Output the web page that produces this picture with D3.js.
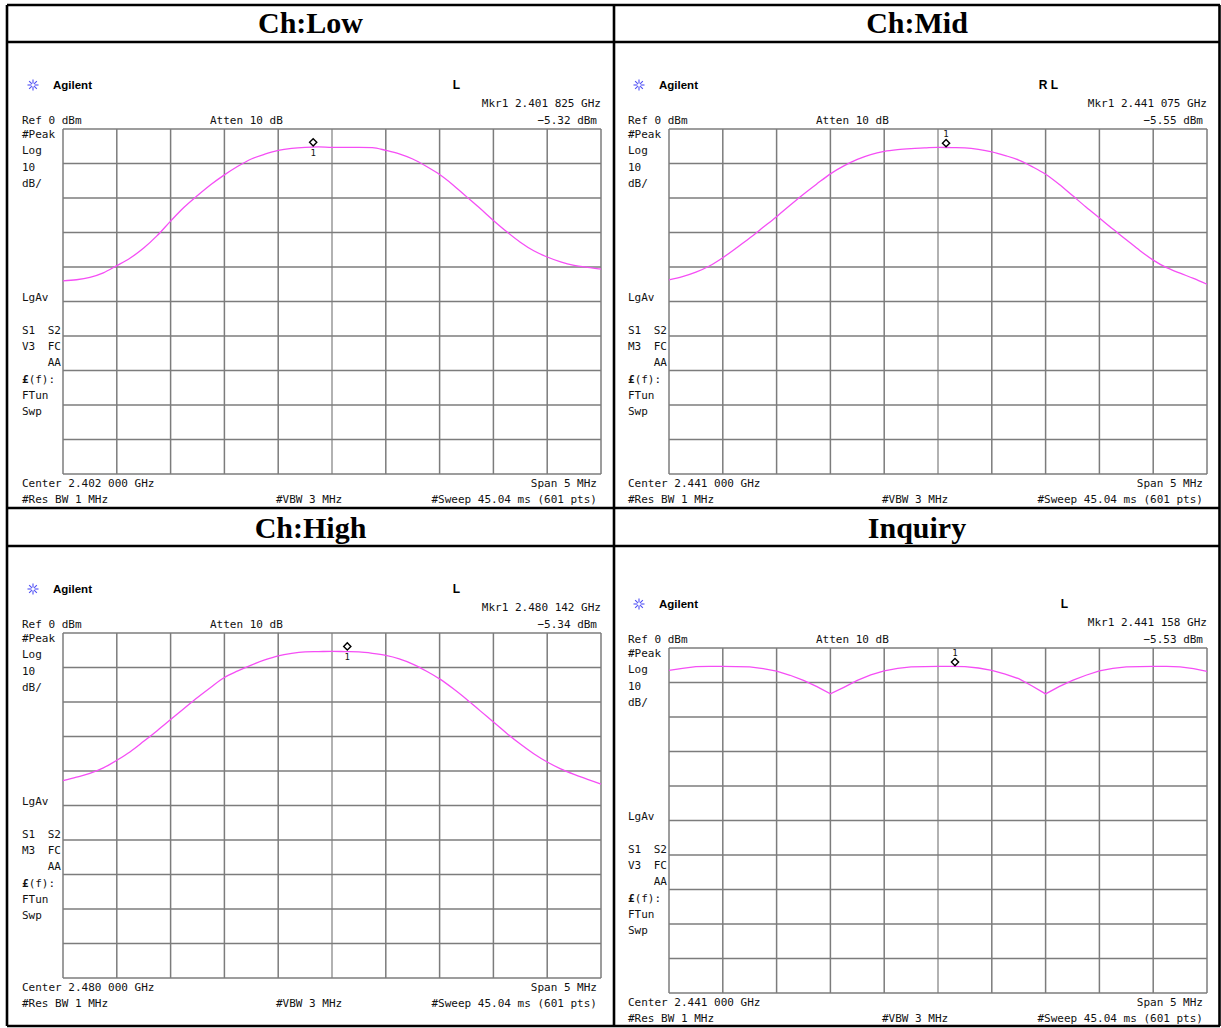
<!DOCTYPE html>
<html>
<head>
<meta charset="utf-8">
<script src="https://cdn.jsdelivr.net/npm/d3@7"></script>
<style>
  body { margin: 0; background: #fff; }
  .mono { font-family: "DejaVu Sans Mono", monospace; font-size: 11px; fill: #111; }
  .title { font-family: "Liberation Serif", "Times New Roman", serif; font-weight: bold; font-size: 30px; }
</style>
</head>
<body>
<div id="chart-area"></div>
<script>
// frequency offset from the centre (MHz), one point every 1/8 MHz
var offsetsMHz = [-2.5, -2.375, -2.25, -2.125, -2.0, -1.875, -1.75, -1.625, -1.5, -1.375,
                  -1.25, -1.125, -1.0, -0.875, -0.75, -0.625, -0.5, -0.375, -0.25, -0.125,
                  0, 0.125, 0.25, 0.375, 0.5, 0.625, 0.75, 0.875, 1.0, 1.125,
                  1.25, 1.375, 1.5, 1.625, 1.75, 1.875, 2.0, 2.125, 2.25, 2.375, 2.5];

// trace levels (dBm)
var lowLevel = [-44.0, -43.7, -43.0, -41.7, -39.6, -37.4, -34.5, -30.9, -26.7, -22.7,
                -19.3, -16.1, -13.3, -10.8, -8.7, -7.3, -6.2, -5.6, -5.3, -5.2,
                -5.3, -5.3, -5.3, -5.4, -6.2, -7.2, -8.7, -10.8, -13.2, -16.2,
                -19.6, -23.0, -26.5, -29.8, -32.8, -35.3, -37.1, -38.5, -39.5, -40.1, -40.6];
var midLevel = [-43.7, -42.8, -41.5, -39.7, -37.3, -34.5, -31.6, -28.5, -25.4, -22.1,
                -18.9, -15.9, -13.0, -10.7, -8.8, -7.4, -6.5, -6.0, -5.7, -5.5,
                -5.3, -5.4, -5.5, -5.9, -6.6, -7.7, -9.0, -10.9, -13.1, -16.0,
                -19.3, -22.6, -25.8, -29.0, -32.1, -35.2, -38.0, -40.2, -41.8, -43.3, -45.0];
var highLevel = [-42.8, -41.8, -40.7, -39.1, -36.9, -34.4, -31.4, -28.3, -25.1, -21.9,
                 -18.7, -15.7, -12.9, -11.0, -9.3, -7.8, -6.6, -5.9, -5.5, -5.4,
                 -5.3, -5.4, -5.5, -5.9, -6.5, -7.5, -9.0, -11.0, -13.3, -16.1,
                 -19.2, -22.5, -25.8, -29.1, -32.2, -35.0, -37.4, -39.4, -41.0, -42.4, -43.8];
var inquiryLevel = [-6.5, -5.9, -5.4, -5.3, -5.3, -5.4, -5.5, -6.0, -6.7, -7.9,
                    -9.4, -11.2, -13.3, -11.4, -9.4, -7.8, -6.6, -5.9, -5.5, -5.4,
                    -5.3, -5.3, -5.4, -5.8, -6.5, -7.6, -8.9, -11.0, -13.3, -11.2,
                    -9.4, -7.9, -6.6, -5.9, -5.5, -5.4, -5.3, -5.3, -5.5, -6.0, -6.8];

var titles = ["Ch:Low", "Ch:Mid", "Ch:High", "Inquiry"];
var centerLabels = ["2.402 000", "2.441 000", "2.480 000", "2.441 000"];
var markerLabels = ["2.401 825", "2.441 075", "2.480 142", "2.441 158"];
var markerOffsets = [-0.175, 0.075, 0.142, 0.158];
var markerLevels = [-5.32, -5.55, -5.34, -5.53];
var statusFlags = ["L", "R L", "L", "L"];
var modeCodes = ["V3", "M3", "M3", "V3"];
var traces = [lowLevel, midLevel, highLevel, inquiryLevel];

var W = 1221, H = 1028;
var gridW = 538, gridH = 345;
// where each analyser grid sits on the page
var origins = [[63, 129], [669, 129], [63, 633], [669, 648]];
var markerAbove = [false, true, false, true];
var statusRight = [397, 389, 397, 399];

var svg = d3.select("#chart-area").append("svg")
    .attr("width", W).attr("height", H);

svg.append("rect").attr("width", W).attr("height", H).attr("fill", "#fff");

var x = d3.scaleLinear().domain([-2.5, 2.5]).range([0, gridW]);
var y = d3.scaleLinear().domain([0, -100]).range([0, gridH]);

var line = d3.line()
    .x(function(d) { return x(d.f); })
    .y(function(d) { return y(d.v); });

titles.forEach(function(title, i) {
    var gx = origins[i][0], gy = origins[i][1];
    var g = svg.append("g").attr("transform", "translate(" + gx + "," + gy + ")");

    // grid
    var vLines = d3.range(0, 11).map(function(k) { return -2.5 + k * 0.5; });
    var hLines = d3.range(0, 11).map(function(k) { return -k * 10; });
    g.selectAll(".vl").data(vLines).enter().append("line")
        .attr("x1", function(d) { return x(d); }).attr("x2", function(d) { return x(d); })
        .attr("y1", 0).attr("y2", gridH)
        .attr("stroke", function(d) { return d === 0 ? "#999" : "#7c7c7c"; })
        .attr("stroke-width", 1.5);
    g.selectAll(".hl").data(hLines).enter().append("line")
        .attr("x1", 0).attr("x2", gridW)
        .attr("y1", function(d) { return y(d); }).attr("y2", function(d) { return y(d); })
        .attr("stroke", "#7c7c7c").attr("stroke-width", 1.5);

    // trace
    var pts = offsetsMHz.map(function(f, k) { return { f: f, v: traces[i][k] }; });
    line.curve(i === 3 ? d3.curveLinear : d3.curveMonotoneX);
    g.append("path").datum(pts)
        .attr("d", line)
        .attr("fill", "none")
        .attr("stroke", "#f54ef5")
        .attr("stroke-width", 1.3);

    // marker
    var mx = x(markerOffsets[i]), my = y(markerLevels[i]) - 5;
    g.append("path")
        .attr("d", "M0,-3.6L3.6,0L0,3.6L-3.6,0Z")
        .attr("transform", "translate(" + mx + "," + my + ")")
        .attr("fill", "#fff").attr("stroke", "#000").attr("stroke-width", 1.4);
    g.append("text").attr("class", "mono")
        .attr("x", mx).attr("y", markerAbove[i] ? my - 6 : my + 14)
        .attr("text-anchor", "middle").style("font-size", "9px")
        .text("1");

    // header texts
    var star = g.append("g").attr("transform", "translate(-30,-44)");
    d3.range(0, 8).forEach(function(k) {
        var a = k * Math.PI / 4;
        star.append("line")
            .attr("x1", Math.cos(a) * 1.5).attr("y1", Math.sin(a) * 1.5)
            .attr("x2", Math.cos(a) * 5.5).attr("y2", Math.sin(a) * 5.5)
            .attr("stroke", "#4f4ff5").attr("stroke-width", 1.1);
    });
    g.append("text").attr("x", -10).attr("y", -40)
        .style("font-family", "Liberation Sans, Arial, sans-serif")
        .style("font-weight", "bold").style("font-size", "11.5px")
        .text("Agilent");
    g.append("text").attr("x", statusRight[i]).attr("y", -40).attr("text-anchor", "end")
        .style("font-family", "Liberation Sans, Arial, sans-serif")
        .style("font-weight", "bold").style("font-size", "12px")
        .text(statusFlags[i]);

    var txt = function(s, tx, ty, anchor) {
        return g.append("text").attr("class", "mono")
            .attr("x", tx).attr("y", ty)
            .attr("text-anchor", anchor || "start")
            .text(s);
    };
    txt("Mkr1  " + markerLabels[i] + " GHz", gridW, -22, "end");
    txt("Ref 0 dBm", -41, -5);
    txt("Atten 10 dB", 147, -5);
    txt(d3.format(".2f")(markerLevels[i]).replace("-", "\u2212") + " dBm", 534, -5, "end");

    txt("#Peak", -41, 9);
    txt("Log", -41, 25);
    txt("10", -41, 42);
    txt("dB/", -41, 58);
    txt("LgAv", -41, 172);
    txt("S1", -41, 205);
    txt("S2", -2, 205, "end");
    txt(modeCodes[i], -41, 221);
    txt("FC", -2, 221, "end");
    txt("AA", -2, 237, "end");
    var fl = txt("", -41, 254);
    fl.append("tspan").style("font-weight", "bold").text("\u00a3");
    fl.append("tspan").text("(f):");
    txt("FTun", -41, 270);
    txt("Swp", -41, 286);

    txt("Center " + centerLabels[i] + " GHz", -41, 358);
    txt("Span 5 MHz", 534, 358, "end");
    txt("#Res BW 1 MHz", -41, 374);
    txt("#VBW 3 MHz", 213, 374);
    txt("#Sweep 45.04 ms (601 pts)", 534, 374, "end");
});

// table frame
var border = svg.append("g").attr("stroke", "#000").attr("stroke-width", 2.6);
[[7, 5, 1220, 5], [7, 42, 1220, 42], [7, 508, 1220, 508], [7, 546, 1220, 546], [7, 1026, 1220, 1026],
 [7, 5, 7, 1026], [614, 5, 614, 1026], [1219.5, 5, 1219.5, 1026]].forEach(function(l) {
    border.append("line").attr("x1", l[0]).attr("y1", l[1]).attr("x2", l[2]).attr("y2", l[3]);
});

var titlePos = [[310.5, 33], [917, 33], [310.5, 538], [917, 538]];
titles.forEach(function(t, i) {
    svg.append("text").attr("class", "title")
        .attr("x", titlePos[i][0]).attr("y", titlePos[i][1])
        .attr("text-anchor", "middle")
        .text(t);
});
</script>
</body>
</html>
